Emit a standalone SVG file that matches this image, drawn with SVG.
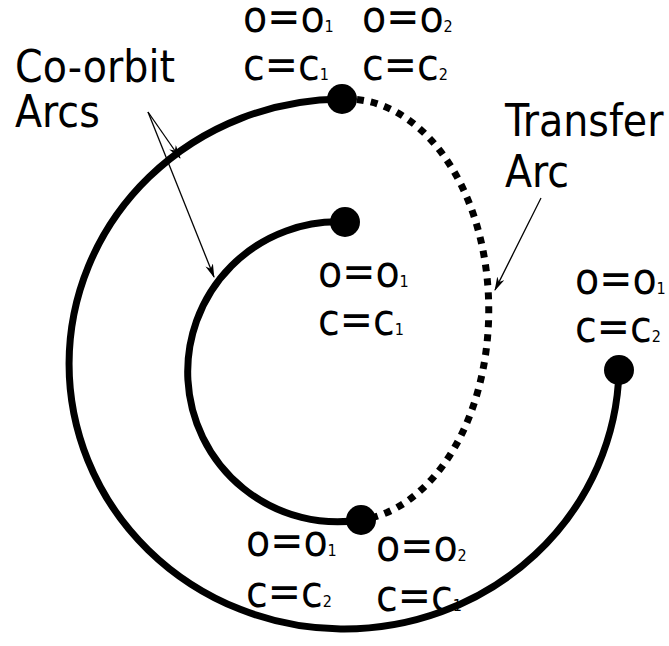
<svg xmlns="http://www.w3.org/2000/svg" width="669" height="646" viewBox="0 0 669 646">
<style>
text{font-family:"DejaVu Sans Condensed","DejaVu Sans",sans-serif;font-stretch:condensed;fill:#000}
.lbl{font-size:44px}
.big{font-size:44px}
.sub{font-size:16px}
.arc{fill:none;stroke:#000;stroke-width:7}
.dash{fill:none;stroke:#000;stroke-width:7;stroke-dasharray:7 7}
.ptr{fill:none;stroke:#000;stroke-width:1.3}
.dot{fill:#000}
</style>
<defs>
<marker id="ah" viewBox="0 0 14 8" refX="13" refY="4" markerWidth="14" markerHeight="8" markerUnits="userSpaceOnUse" orient="auto">
<path d="M0,0 L14,4 L0,8 L4,4 z" fill="#000"/>
</marker>
</defs>
<rect width="669" height="646" fill="#fff"/>
<g id="connectors">
<path id="outer-arc" class="arc" d="M342,99 A275 265 0 1 0 619,370"/>
<path id="inner-arc" class="arc" d="M345,222 A150 150 0 1 0 361,520"/>
<path id="transfer-arc" class="dash" d="M357,99.5 A141.5 211 0 0 1 361,520"/>
<path class="ptr" d="M148,112 L180,158" marker-end="url(#ah)"/>
<path class="ptr" d="M148,112 L214,277" marker-end="url(#ah)"/>
<path class="ptr" d="M541,198 L495,290" marker-end="url(#ah)"/>
</g>
<g id="node-outer-start"><circle class="dot" cx="342" cy="99" r="15"/>
<text class="lbl" x="243" y="32">o=o<tspan class="sub">1</tspan></text>
<text class="lbl" x="243" y="80">c=c<tspan class="sub">1</tspan></text>
<text class="lbl" x="362" y="32">o=o<tspan class="sub">2</tspan></text>
<text class="lbl" x="362" y="80">c=c<tspan class="sub">2</tspan></text>
</g>
<g id="node-inner-start"><circle class="dot" cx="345" cy="222" r="15"/>
<text class="lbl" x="318" y="287">o=o<tspan class="sub">1</tspan></text>
<text class="lbl" x="318" y="335">c=c<tspan class="sub">1</tspan></text>
</g>
<g id="node-outer-end"><circle class="dot" cx="619" cy="370" r="15"/>
<text class="lbl" x="575" y="294">o=o<tspan class="sub">1</tspan></text>
<text class="lbl" x="575" y="342">c=c<tspan class="sub">2</tspan></text>
</g>
<g id="node-inner-end"><circle class="dot" cx="361" cy="520" r="15"/>
<text class="lbl" x="246" y="556">o=o<tspan class="sub">1</tspan></text>
<text class="lbl" x="246" y="607">c=c<tspan class="sub">2</tspan></text>
<text class="lbl" x="376" y="561">o=o<tspan class="sub">2</tspan></text>
<text class="lbl" x="376" y="611">c=c<tspan class="sub">1</tspan></text>
</g>
<g id="label-coorbit">
<text class="big" x="15" y="82">Co-orbit</text>
<text class="big" x="15" y="127">Arcs</text>
</g>
<g id="label-transfer">
<text class="big" x="505" y="136">Transfer</text>
<text class="big" x="505" y="187">Arc</text>
</g>
</svg>
